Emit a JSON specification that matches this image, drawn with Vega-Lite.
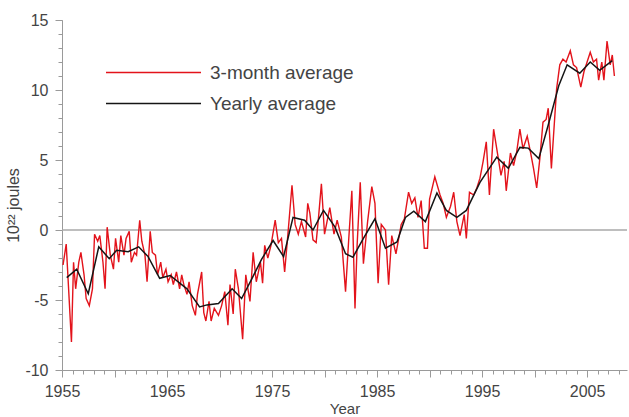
{
  "$schema": "https://vega.github.io/schema/vega-lite/v6.json",
  "autosize": {"type": "none"},
  "width": 565,
  "height": 350,
  "padding": {"left": 62, "top": 20, "right": 2, "bottom": 47},
  "background": "#ffffff",
  "config": {
    "view": {"stroke": null},
    "font": "Liberation Sans",
    "axis": {
      "domainColor": "#9a9a9a",
      "tickColor": "#9a9a9a",
      "labelColor": "#444444",
      "titleColor": "#444444",
      "labelFont": "Liberation Sans",
      "titleFont": "Liberation Sans",
      "labelFontSize": 16,
      "titleFontSize": 15,
      "titleFontWeight": "normal",
      "grid": false
    }
  },
  "datasets": {
    "quarterly": [
      {"year": 1955.1, "value": -2.5, "series": "3-month average"},
      {"year": 1955.4, "value": -1.0, "series": "3-month average"},
      {"year": 1955.9, "value": -8.0, "series": "3-month average"},
      {"year": 1956.1, "value": -2.3, "series": "3-month average"},
      {"year": 1956.3, "value": -4.2, "series": "3-month average"},
      {"year": 1956.6, "value": -2.3, "series": "3-month average"},
      {"year": 1956.8, "value": -1.6, "series": "3-month average"},
      {"year": 1957.1, "value": -3.2, "series": "3-month average"},
      {"year": 1957.3, "value": -4.9, "series": "3-month average"},
      {"year": 1957.6, "value": -5.4, "series": "3-month average"},
      {"year": 1957.9, "value": -4.2, "series": "3-month average"},
      {"year": 1958.1, "value": -0.3, "series": "3-month average"},
      {"year": 1958.4, "value": -0.8, "series": "3-month average"},
      {"year": 1958.6, "value": -0.4, "series": "3-month average"},
      {"year": 1958.9, "value": -2.3, "series": "3-month average"},
      {"year": 1959.1, "value": -4.2, "series": "3-month average"},
      {"year": 1959.3, "value": 0.2, "series": "3-month average"},
      {"year": 1959.6, "value": -1.8, "series": "3-month average"},
      {"year": 1959.9, "value": -2.8, "series": "3-month average"},
      {"year": 1960.1, "value": -0.6, "series": "3-month average"},
      {"year": 1960.4, "value": -2.3, "series": "3-month average"},
      {"year": 1960.6, "value": -0.4, "series": "3-month average"},
      {"year": 1960.9, "value": -1.8, "series": "3-month average"},
      {"year": 1961.1, "value": -0.6, "series": "3-month average"},
      {"year": 1961.4, "value": -0.1, "series": "3-month average"},
      {"year": 1961.6, "value": -2.3, "series": "3-month average"},
      {"year": 1961.9, "value": -1.6, "series": "3-month average"},
      {"year": 1962.1, "value": -1.8, "series": "3-month average"},
      {"year": 1962.4, "value": 0.7, "series": "3-month average"},
      {"year": 1962.6, "value": -0.8, "series": "3-month average"},
      {"year": 1962.9, "value": -1.8, "series": "3-month average"},
      {"year": 1963.1, "value": -3.7, "series": "3-month average"},
      {"year": 1963.4, "value": -0.1, "series": "3-month average"},
      {"year": 1963.6, "value": -1.6, "series": "3-month average"},
      {"year": 1963.9, "value": -1.8, "series": "3-month average"},
      {"year": 1964.1, "value": -3.2, "series": "3-month average"},
      {"year": 1964.4, "value": -2.3, "series": "3-month average"},
      {"year": 1964.6, "value": -3.4, "series": "3-month average"},
      {"year": 1964.9, "value": -2.8, "series": "3-month average"},
      {"year": 1965.1, "value": -3.7, "series": "3-month average"},
      {"year": 1965.4, "value": -3.2, "series": "3-month average"},
      {"year": 1965.6, "value": -3.9, "series": "3-month average"},
      {"year": 1965.9, "value": -3.0, "series": "3-month average"},
      {"year": 1966.2, "value": -4.2, "series": "3-month average"},
      {"year": 1966.4, "value": -3.2, "series": "3-month average"},
      {"year": 1966.6, "value": -3.9, "series": "3-month average"},
      {"year": 1966.9, "value": -4.6, "series": "3-month average"},
      {"year": 1967.1, "value": -3.7, "series": "3-month average"},
      {"year": 1967.4, "value": -5.4, "series": "3-month average"},
      {"year": 1967.7, "value": -6.1, "series": "3-month average"},
      {"year": 1967.9, "value": -4.6, "series": "3-month average"},
      {"year": 1968.3, "value": -3.0, "series": "3-month average"},
      {"year": 1968.5, "value": -5.9, "series": "3-month average"},
      {"year": 1968.7, "value": -6.5, "series": "3-month average"},
      {"year": 1969.0, "value": -5.1, "series": "3-month average"},
      {"year": 1969.2, "value": -6.5, "series": "3-month average"},
      {"year": 1969.5, "value": -5.6, "series": "3-month average"},
      {"year": 1969.9, "value": -6.1, "series": "3-month average"},
      {"year": 1970.2, "value": -5.4, "series": "3-month average"},
      {"year": 1970.5, "value": -4.4, "series": "3-month average"},
      {"year": 1970.8, "value": -6.8, "series": "3-month average"},
      {"year": 1971.0, "value": -3.9, "series": "3-month average"},
      {"year": 1971.3, "value": -6.0, "series": "3-month average"},
      {"year": 1971.5, "value": -2.8, "series": "3-month average"},
      {"year": 1971.8, "value": -4.2, "series": "3-month average"},
      {"year": 1972.2, "value": -7.8, "series": "3-month average"},
      {"year": 1972.5, "value": -3.2, "series": "3-month average"},
      {"year": 1972.7, "value": -4.2, "series": "3-month average"},
      {"year": 1972.9, "value": -5.1, "series": "3-month average"},
      {"year": 1973.2, "value": -1.6, "series": "3-month average"},
      {"year": 1973.5, "value": -3.7, "series": "3-month average"},
      {"year": 1973.9, "value": -2.3, "series": "3-month average"},
      {"year": 1974.1, "value": -3.8, "series": "3-month average"},
      {"year": 1974.3, "value": -1.1, "series": "3-month average"},
      {"year": 1974.6, "value": -2.0, "series": "3-month average"},
      {"year": 1974.9, "value": -1.1, "series": "3-month average"},
      {"year": 1975.3, "value": 0.7, "series": "3-month average"},
      {"year": 1975.6, "value": -0.9, "series": "3-month average"},
      {"year": 1975.9, "value": -0.6, "series": "3-month average"},
      {"year": 1976.2, "value": -3.0, "series": "3-month average"},
      {"year": 1976.5, "value": -0.4, "series": "3-month average"},
      {"year": 1976.9, "value": 3.2, "series": "3-month average"},
      {"year": 1977.2, "value": 0.4, "series": "3-month average"},
      {"year": 1977.5, "value": -0.3, "series": "3-month average"},
      {"year": 1977.8, "value": 0.6, "series": "3-month average"},
      {"year": 1978.2, "value": -0.5, "series": "3-month average"},
      {"year": 1978.4, "value": 1.9, "series": "3-month average"},
      {"year": 1978.6, "value": 1.2, "series": "3-month average"},
      {"year": 1978.9, "value": -0.7, "series": "3-month average"},
      {"year": 1979.2, "value": -0.9, "series": "3-month average"},
      {"year": 1979.45, "value": 1.1, "series": "3-month average"},
      {"year": 1979.7, "value": 3.3, "series": "3-month average"},
      {"year": 1980.0, "value": -0.3, "series": "3-month average"},
      {"year": 1980.5, "value": 1.6, "series": "3-month average"},
      {"year": 1980.9, "value": -0.3, "series": "3-month average"},
      {"year": 1981.2, "value": 0.7, "series": "3-month average"},
      {"year": 1981.6, "value": -0.5, "series": "3-month average"},
      {"year": 1982.0, "value": -4.4, "series": "3-month average"},
      {"year": 1982.3, "value": -0.7, "series": "3-month average"},
      {"year": 1982.6, "value": 2.8, "series": "3-month average"},
      {"year": 1982.9, "value": -5.6, "series": "3-month average"},
      {"year": 1983.1, "value": -1.1, "series": "3-month average"},
      {"year": 1983.4, "value": 3.4, "series": "3-month average"},
      {"year": 1983.7, "value": -2.4, "series": "3-month average"},
      {"year": 1984.1, "value": 0.6, "series": "3-month average"},
      {"year": 1984.5, "value": 3.1, "series": "3-month average"},
      {"year": 1984.8, "value": 1.9, "series": "3-month average"},
      {"year": 1985.1, "value": -3.8, "series": "3-month average"},
      {"year": 1985.4, "value": 0.4, "series": "3-month average"},
      {"year": 1985.8, "value": 0.0, "series": "3-month average"},
      {"year": 1986.1, "value": -3.9, "series": "3-month average"},
      {"year": 1986.4, "value": -0.4, "series": "3-month average"},
      {"year": 1986.8, "value": -1.7, "series": "3-month average"},
      {"year": 1987.3, "value": 0.4, "series": "3-month average"},
      {"year": 1987.6, "value": 0.8, "series": "3-month average"},
      {"year": 1988.0, "value": 2.7, "series": "3-month average"},
      {"year": 1988.3, "value": 1.9, "series": "3-month average"},
      {"year": 1988.6, "value": 2.3, "series": "3-month average"},
      {"year": 1988.9, "value": 0.9, "series": "3-month average"},
      {"year": 1989.2, "value": 2.1, "series": "3-month average"},
      {"year": 1989.5, "value": -1.3, "series": "3-month average"},
      {"year": 1989.8, "value": -1.3, "series": "3-month average"},
      {"year": 1990.0, "value": 2.2, "series": "3-month average"},
      {"year": 1990.5, "value": 3.8, "series": "3-month average"},
      {"year": 1991.0, "value": 2.5, "series": "3-month average"},
      {"year": 1991.3, "value": 1.9, "series": "3-month average"},
      {"year": 1991.6, "value": 0.9, "series": "3-month average"},
      {"year": 1992.0, "value": 1.7, "series": "3-month average"},
      {"year": 1992.3, "value": 2.7, "series": "3-month average"},
      {"year": 1992.6, "value": 0.6, "series": "3-month average"},
      {"year": 1992.9, "value": -0.4, "series": "3-month average"},
      {"year": 1993.3, "value": 1.1, "series": "3-month average"},
      {"year": 1993.5, "value": -0.6, "series": "3-month average"},
      {"year": 1993.8, "value": 2.7, "series": "3-month average"},
      {"year": 1994.2, "value": 2.5, "series": "3-month average"},
      {"year": 1994.5, "value": 3.0, "series": "3-month average"},
      {"year": 1994.8, "value": 3.7, "series": "3-month average"},
      {"year": 1995.1, "value": 4.9, "series": "3-month average"},
      {"year": 1995.4, "value": 6.3, "series": "3-month average"},
      {"year": 1995.7, "value": 2.5, "series": "3-month average"},
      {"year": 1996.1, "value": 7.2, "series": "3-month average"},
      {"year": 1996.4, "value": 5.8, "series": "3-month average"},
      {"year": 1996.8, "value": 3.9, "series": "3-month average"},
      {"year": 1997.1, "value": 4.9, "series": "3-month average"},
      {"year": 1997.3, "value": 2.8, "series": "3-month average"},
      {"year": 1997.7, "value": 5.5, "series": "3-month average"},
      {"year": 1998.0, "value": 4.6, "series": "3-month average"},
      {"year": 1998.3, "value": 5.6, "series": "3-month average"},
      {"year": 1998.6, "value": 7.2, "series": "3-month average"},
      {"year": 1998.9, "value": 5.8, "series": "3-month average"},
      {"year": 1999.3, "value": 6.7, "series": "3-month average"},
      {"year": 1999.6, "value": 5.6, "series": "3-month average"},
      {"year": 1999.9, "value": 4.4, "series": "3-month average"},
      {"year": 2000.2, "value": 3.0, "series": "3-month average"},
      {"year": 2000.5, "value": 5.1, "series": "3-month average"},
      {"year": 2000.8, "value": 7.7, "series": "3-month average"},
      {"year": 2001.1, "value": 7.9, "series": "3-month average"},
      {"year": 2001.3, "value": 8.7, "series": "3-month average"},
      {"year": 2001.6, "value": 4.4, "series": "3-month average"},
      {"year": 2001.8, "value": 6.7, "series": "3-month average"},
      {"year": 2002.1, "value": 10.1, "series": "3-month average"},
      {"year": 2002.4, "value": 11.8, "series": "3-month average"},
      {"year": 2002.7, "value": 12.2, "series": "3-month average"},
      {"year": 2003.0, "value": 12.0, "series": "3-month average"},
      {"year": 2003.4, "value": 12.8, "series": "3-month average"},
      {"year": 2003.7, "value": 11.8, "series": "3-month average"},
      {"year": 2004.0, "value": 11.6, "series": "3-month average"},
      {"year": 2004.4, "value": 10.2, "series": "3-month average"},
      {"year": 2004.7, "value": 11.3, "series": "3-month average"},
      {"year": 2005.0, "value": 12.0, "series": "3-month average"},
      {"year": 2005.3, "value": 12.7, "series": "3-month average"},
      {"year": 2005.6, "value": 12.0, "series": "3-month average"},
      {"year": 2005.9, "value": 12.2, "series": "3-month average"},
      {"year": 2006.1, "value": 10.7, "series": "3-month average"},
      {"year": 2006.4, "value": 12.0, "series": "3-month average"},
      {"year": 2006.6, "value": 10.7, "series": "3-month average"},
      {"year": 2006.9, "value": 13.5, "series": "3-month average"},
      {"year": 2007.2, "value": 11.8, "series": "3-month average"},
      {"year": 2007.4, "value": 12.5, "series": "3-month average"},
      {"year": 2007.6, "value": 11.0, "series": "3-month average"}
    ],
    "yearly": [
      {"year": 1955.45, "value": -3.4, "series": "Yearly average"},
      {"year": 1956.4, "value": -2.8, "series": "Yearly average"},
      {"year": 1957.5, "value": -4.55, "series": "Yearly average"},
      {"year": 1958.5, "value": -1.2, "series": "Yearly average"},
      {"year": 1959.5, "value": -2.05, "series": "Yearly average"},
      {"year": 1960.2, "value": -1.45, "series": "Yearly average"},
      {"year": 1961.3, "value": -1.55, "series": "Yearly average"},
      {"year": 1962.3, "value": -1.2, "series": "Yearly average"},
      {"year": 1963.2, "value": -1.9, "series": "Yearly average"},
      {"year": 1964.3, "value": -3.45, "series": "Yearly average"},
      {"year": 1965.3, "value": -3.25, "series": "Yearly average"},
      {"year": 1966.9, "value": -4.2, "series": "Yearly average"},
      {"year": 1968.1, "value": -5.5, "series": "Yearly average"},
      {"year": 1968.8, "value": -5.35, "series": "Yearly average"},
      {"year": 1969.9, "value": -5.25, "series": "Yearly average"},
      {"year": 1971.2, "value": -4.2, "series": "Yearly average"},
      {"year": 1972.1, "value": -4.9, "series": "Yearly average"},
      {"year": 1973.0, "value": -3.6, "series": "Yearly average"},
      {"year": 1974.0, "value": -2.1, "series": "Yearly average"},
      {"year": 1975.1, "value": -0.75, "series": "Yearly average"},
      {"year": 1976.1, "value": -1.9, "series": "Yearly average"},
      {"year": 1977.0, "value": 0.9, "series": "Yearly average"},
      {"year": 1978.1, "value": 0.7, "series": "Yearly average"},
      {"year": 1978.9, "value": 0.0, "series": "Yearly average"},
      {"year": 1979.9, "value": 1.4, "series": "Yearly average"},
      {"year": 1981.0, "value": 0.2, "series": "Yearly average"},
      {"year": 1982.0, "value": -1.7, "series": "Yearly average"},
      {"year": 1982.7, "value": -1.95, "series": "Yearly average"},
      {"year": 1983.7, "value": -0.6, "series": "Yearly average"},
      {"year": 1984.8, "value": 0.8, "series": "Yearly average"},
      {"year": 1985.8, "value": -1.3, "series": "Yearly average"},
      {"year": 1986.9, "value": -0.85, "series": "Yearly average"},
      {"year": 1987.7, "value": 0.9, "series": "Yearly average"},
      {"year": 1988.5, "value": 1.35, "series": "Yearly average"},
      {"year": 1989.6, "value": 0.6, "series": "Yearly average"},
      {"year": 1990.7, "value": 2.65, "series": "Yearly average"},
      {"year": 1991.6, "value": 1.4, "series": "Yearly average"},
      {"year": 1992.6, "value": 0.9, "series": "Yearly average"},
      {"year": 1993.5, "value": 1.4, "series": "Yearly average"},
      {"year": 1994.8, "value": 3.4, "series": "Yearly average"},
      {"year": 1996.4, "value": 5.2, "series": "Yearly average"},
      {"year": 1997.5, "value": 4.4, "series": "Yearly average"},
      {"year": 1998.6, "value": 5.9, "series": "Yearly average"},
      {"year": 1999.4, "value": 5.85, "series": "Yearly average"},
      {"year": 2000.4, "value": 5.1, "series": "Yearly average"},
      {"year": 2001.3, "value": 7.5, "series": "Yearly average"},
      {"year": 2002.3, "value": 10.3, "series": "Yearly average"},
      {"year": 2003.1, "value": 11.8, "series": "Yearly average"},
      {"year": 2004.3, "value": 11.2, "series": "Yearly average"},
      {"year": 2005.3, "value": 12.0, "series": "Yearly average"},
      {"year": 2006.2, "value": 11.4, "series": "Yearly average"},
      {"year": 2007.4, "value": 12.1, "series": "Yearly average"}
    ],
    "zero": [{"value": 0}]
  },
  "resolve": {"axis": {"x": "independent", "y": "independent"}},
  "layer": [
    {
      "data": {"name": "zero"},
      "mark": {"type": "rule", "color": "#a8a8a8", "strokeWidth": 1.5},
      "encoding": {
        "y": {"field": "value", "type": "quantitative", "scale": {"domain": [-10, 15], "nice": false, "zero": false}, "axis": null}
      }
    },
    {
      "data": {"name": "quarterly"},
      "mark": {"type": "line", "strokeWidth": 1.4, "interpolate": "linear"},
      "encoding": {
        "x": {
          "field": "year", "type": "quantitative",
          "scale": {"domain": [1955, 2008.8], "nice": false, "zero": false},
          "axis": {
            "orient": "bottom",
            "values": [1955, 1960, 1965, 1970, 1975, 1980, 1985, 1990, 1995, 2000, 2005],
            "format": "d",
            "labelExpr": "datum.value % 10 == 5 ? datum.label : ''",
            "tickSize": 7,
            "labelPadding": 6,
            "title": "Year",
            "titlePadding": 2,
            "labelFlush": false,
            "labelOverlap": false
          }
        },
        "y": {
          "field": "value", "type": "quantitative",
          "scale": {"domain": [-10, 15], "nice": false, "zero": false},
          "axis": {
            "orient": "left",
            "values": [-10, -5, 0, 5, 10, 15],
            "labelExpr": "datum.value + ''",
            "tickSize": 7,
            "labelPadding": 7,
            "title": "10²² joules",
            "titleFontSize": 16,
            "titleX": -41,
            "titleY": 185,
            "labelFlush": false,
            "labelOverlap": false
          }
        },
        "color": {
          "field": "series", "type": "nominal",
          "scale": {"domain": ["3-month average", "Yearly average"], "range": ["#e3131b", "#151515"]},
          "legend": {
            "title": null,
            "orient": "none",
            "legendX": 43,
            "legendY": 38,
            "symbolType": "stroke",
            "symbolSize": 9025,
            "symbolStrokeWidth": 1.6,
            "clipHeight": 29,
            "rowPadding": 2,
            "labelOffset": 8,
            "labelFontSize": 19,
            "labelFont": "Liberation Sans",
            "labelColor": "#444444",
            "padding": 0
          }
        }
      }
    },
    {
      "data": {"name": "yearly"},
      "mark": {"type": "line", "strokeWidth": 1.5},
      "encoding": {
        "x": {
          "field": "year", "type": "quantitative",
          "scale": {"domain": [1955, 2008.8], "nice": false, "zero": false},
          "axis": {
            "orient": "bottom",
            "values": [1955,1956,1957,1958,1959,1960,1961,1962,1963,1964,1965,1966,1967,1968,1969,1970,1971,1972,1973,1974,1975,1976,1977,1978,1979,1980,1981,1982,1983,1984,1985,1986,1987,1988,1989,1990,1991,1992,1993,1994,1995,1996,1997,1998,1999,2000,2001,2002,2003,2004,2005,2006,2007,2008],
            "tickSize": 4,
            "labels": false,
            "domain": false,
            "title": null
          }
        },
        "y": {
          "field": "value", "type": "quantitative",
          "scale": {"domain": [-10, 15], "nice": false, "zero": false},
          "axis": {
            "orient": "left",
            "values": [-10,-9,-8,-7,-6,-5,-4,-3,-2,-1,0,1,2,3,4,5,6,7,8,9,10,11,12,13,14,15],
            "tickSize": 4,
            "labels": false,
            "domain": false,
            "title": null
          }
        },
        "color": {"field": "series", "type": "nominal"}
      }
    }
  ]
}
